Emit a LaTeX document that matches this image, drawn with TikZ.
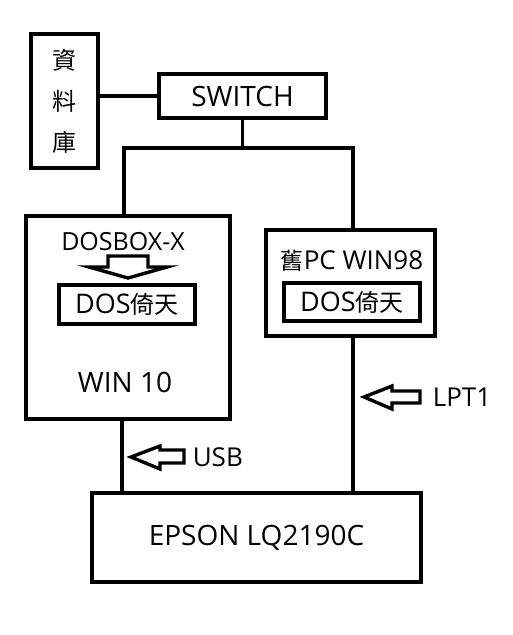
\documentclass[tikz,border=0pt]{standalone}
\usepackage{fontspec}
\setmainfont{Open Sans}
\newfontfamily\cjk{Noto Sans CJK TC}
\newcommand{\fs}[1]{\fontsize{#1}{#1}\selectfont}
\begin{document}
\begin{tikzpicture}[x=1pt,y=-1pt,
  every path/.style={line width=3.6pt},
  box/.style={draw, line width=3.6pt, inner sep=0pt, outer sep=0pt, align=center, font=\fs{28}},
  lbl/.style={inner sep=0pt, font=\fs{26}},
  hollow/.style={draw, line width=3.4pt, line join=miter}]
\useasboundingbox (0,0) rectangle (512,635);
\node[box, minimum width=67, minimum height=134, font=\cjk\fs{24}] (db) at (64.5,101) {資\\[17pt]料\\[17pt]庫};
\node[box, minimum width=167, minimum height=44] (sw) at (242.5,96) {SWITCH};
\node[box, minimum width=204, minimum height=203] (w10) at (128,317.5) {};
\node[box, minimum width=136, minimum height=39, font=\fs{27}] (d1) at (127,304.5) {DOS{\cjk\fs{24}倚天}};
\node[box, minimum width=169, minimum height=106] (w98) at (350.5,283) {};
\node[box, minimum width=136, minimum height=38, font=\fs{27}] (d2) at (352,302) {DOS{\cjk\fs{24}倚天}};
\node[box, minimum width=329, minimum height=89] (pr) at (256.5,537.5) {EPSON LQ2190C};
\node[lbl, font=\fs{25}] (tbox) at (123,242) {DOSBOX-X};
\node[lbl, font=\fs{28}] (tw10) at (125,382) {WIN 10};
\node[lbl] (tw98) at (352,261) {{\cjk\fs{23}舊}PC WIN98};
\node[lbl, anchor=west] (tlpt) at (431,397) {LPT1};
\node[lbl, anchor=west] (tusb) at (191,457) {USB};
\coordinate (jL) at (124,148);
\coordinate (jR) at (353,148);
\draw (db.east |- sw.west) -- (sw.west);
\draw (sw.south) -- (sw.south |- jL);
\draw (w10.north -| jL) -- (jL) -- (jR) -- (w98.north -| jR);
\draw ([xshift=-6]w10.south) -- ([xshift=-6]w10.south |- pr.north);
\draw ([xshift=2.5]w98.south) -- ([xshift=2.5]w98.south |- pr.north);
% hollow arrows
\draw[hollow] (108,256) -- (148,256) -- (148,267) -- (167,267) -- (128,278) -- (89,267) -- (108,267) -- cycle;
\draw[hollow] (364,397) -- (392,386) -- (392,391) -- (420,391) -- (420,403) -- (392,403) -- (392,409) -- cycle;
\draw[hollow] (131,457) -- (160,446) -- (160,450) -- (184,450) -- (184,463) -- (160,463) -- (160,469) -- cycle;
\end{tikzpicture}
\end{document}
